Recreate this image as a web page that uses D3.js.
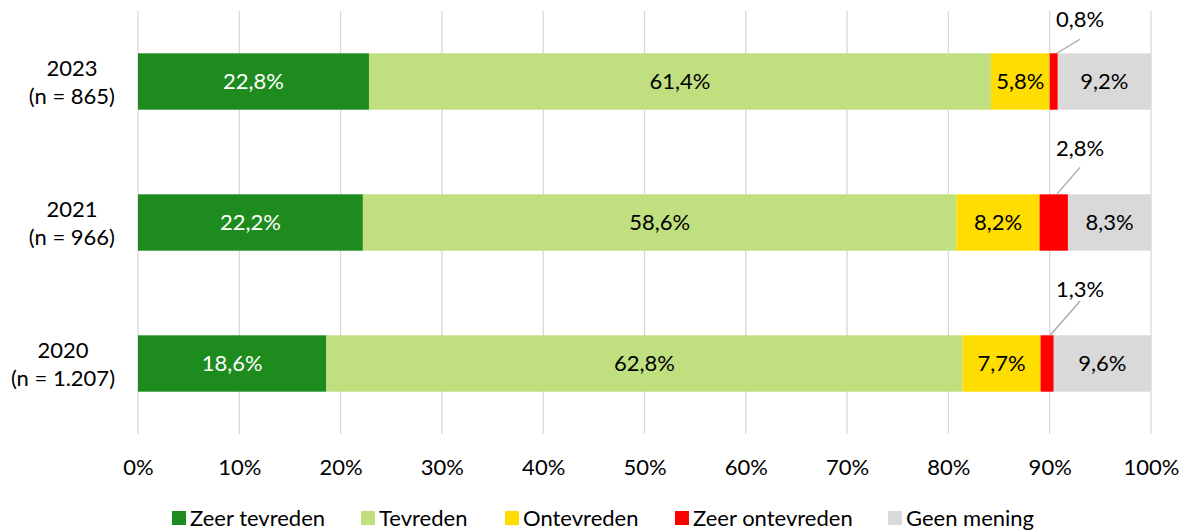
<!DOCTYPE html>
<html>
<head>
<meta charset="utf-8">
<script src="https://cdn.jsdelivr.net/npm/d3@7"></script>
<style>
  body { margin: 0; background: #fff; }
  text { font-family: Lato, "Open Sans", sans-serif; fill: #000; }
</style>
</head>
<body>
<svg id="chart" width="1186" height="531"></svg>
<script>
// chart data
var years = ["2023", "2021", "2020"];
var sampleSizes = ["(n = 865)", "(n = 966)", "(n = 1.207)"];
var categories = ["Zeer tevreden", "Tevreden", "Ontevreden", "Zeer ontevreden", "Geen mening"];
var zeerTevreden = [22.8, 22.2, 18.6];
var tevreden = [61.4, 58.6, 62.8];
var ontevreden = [5.8, 8.2, 7.7];
var zeerOntevreden = [0.8, 2.8, 1.3];
var geenMening = [9.2, 8.3, 9.6];
var tickValues = [0, 10, 20, 30, 40, 50, 60, 70, 80, 90, 100];

var colors = ["#1e8b1e", "#c0e080", "#ffdd00", "#ff0000", "#d9d9d9"];
var textColors = ["#fff", "#000", "#000", "#000", "#000"];
var fontSize = "22px";

var series = [zeerTevreden, tevreden, ontevreden, zeerOntevreden, geenMening];

var svg = d3.select("#chart");

var x = d3.scaleLinear().domain([0, 100]).range([138, 1151]);
var y = d3.scaleBand().domain(years).range([11, 434]).paddingInner(0.6).paddingOuter(0.3);

// gridlines
svg.append("g").selectAll("line")
  .data(tickValues)
  .enter().append("line")
  .attr("x1", function(d) { return x(d); })
  .attr("x2", function(d) { return x(d); })
  .attr("y1", 11).attr("y2", 434)
  .attr("stroke", "#d9d9d9").attr("stroke-width", 1.3);

// x axis labels
var xAxis = d3.axisBottom(x).tickValues(tickValues).tickSize(0).tickPadding(0)
  .tickFormat(function(d) { return d + "%"; });
var gx = svg.append("g").attr("transform", "translate(0,459)").call(xAxis);
gx.select(".domain").remove();
gx.selectAll("text").style("font-size", fontSize).style("font-family", "Lato, sans-serif").attr("fill", "#000").attr("dy", "0.72em");

// build stacked segments
var segs = [];
years.forEach(function(yr, i) {
  var acc = 0;
  series.forEach(function(s, k) {
    segs.push({ year: yr, k: k, x0: acc, x1: acc + s[i], v: s[i] });
    acc += s[i];
  });
});

svg.append("g").selectAll("rect")
  .data(segs)
  .enter().append("rect")
  .attr("x", function(d) { return x(d.x0); })
  .attr("width", function(d) { return x(Math.min(d.x1, 100)) - x(d.x0); })
  .attr("y", function(d) { return y(d.year); })
  .attr("height", y.bandwidth())
  .attr("fill", function(d) { return colors[d.k]; });

function fmt(v) { return v.toFixed(1).replace(".", ",") + "%"; }

// labels inside the bars (not the small red ones)
svg.append("g").selectAll("text")
  .data(segs.filter(function(d) { return d.k != 3; }))
  .enter().append("text")
  .attr("x", function(d) { return (x(d.x0) + x(Math.min(d.x1, 100))) / 2; })
  .attr("y", function(d) { return y(d.year) + y.bandwidth() / 2; })
  .attr("dy", "0.36em")
  .attr("text-anchor", "middle")
  .style("font-size", fontSize)
  .style("fill", function(d) { return textColors[d.k]; })
  .text(function(d) { return fmt(d.v); });

// callouts for "zeer ontevreden"
var red = segs.filter(function(d) { return d.k == 3; });
var callG = svg.append("g");
red.forEach(function(d) {
  var top = y(d.year);
  var midX = (x(d.x0) + x(d.x1)) / 2;
  var lx = 1080;
  callG.append("line")
    .attr("x1", midX + 3).attr("y1", top)
    .attr("x2", lx).attr("y2", top - (d.v > 2 ? 27 : (d.year == "2020" ? 34 : 14)))
    .attr("stroke", "#a6a6a6").attr("stroke-width", 1.3);
  callG.append("text")
    .attr("x", lx).attr("y", top - (d.year == "2023" ? 34 : 46))
    .attr("text-anchor", "middle")
    .attr("dy", "0.36em")
    .style("font-size", fontSize)
    .text(fmt(d.v));
});

// y labels: two lines centred, block right-aligned to the axis
var yl = svg.append("g");
years.forEach(function(yr, i) {
  var cy = y(yr) + y.bandwidth() / 2;
  var t = yl.append("text").attr("text-anchor", "middle").style("font-size", fontSize);
  t.append("tspan").attr("x", 0).attr("y", cy - 13).attr("dy", "0.36em").text(yr);
  t.append("tspan").attr("x", 0).attr("y", cy + 15).attr("dy", "0.36em").text(sampleSizes[i]);
  var w = t.node().getBBox().width;
  t.attr("transform", "translate(" + (115 - w / 2) + ",0)");
});

// legend
var legendX = [172, 361, 505, 675, 888];
var lg = svg.append("g");
categories.forEach(function(c, k) {
  lg.append("rect").attr("x", legendX[k]).attr("y", 511).attr("width", 14).attr("height", 14).attr("fill", colors[k]);
  lg.append("text").attr("x", legendX[k] + 18).attr("y", 518).attr("dy", "0.36em")
    .style("font-size", fontSize).text(c);
});
</script>
</body>
</html>
